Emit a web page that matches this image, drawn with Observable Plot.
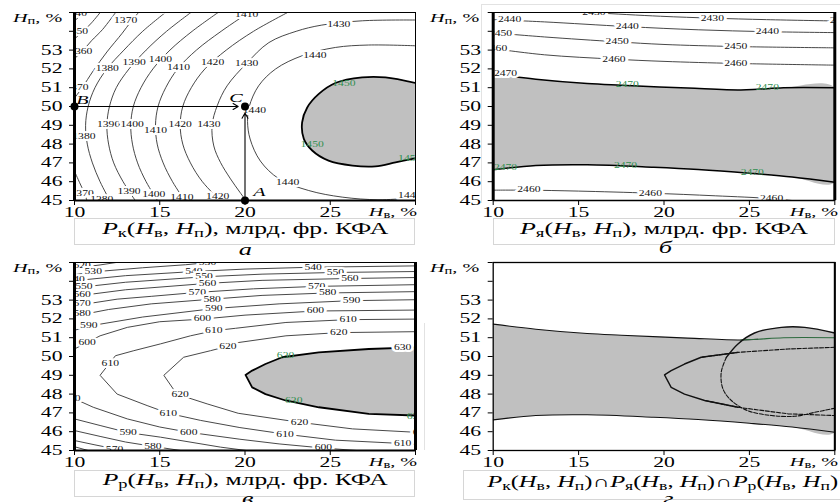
<!DOCTYPE html>
<html lang="ru"><head><meta charset="utf-8">
<script src="https://cdn.jsdelivr.net/npm/d3@7"></script>
<script src="https://cdn.jsdelivr.net/npm/@observablehq/plot@0.6"></script>
<style>
html,body{margin:0;padding:0;background:#fff;}
#fig{position:relative;width:840px;height:502px;overflow:hidden;background:#fff;font-family:"Liberation Serif","Times New Roman",serif;color:#000;}
.panel{position:absolute;width:420px;height:250px;}
.panel svg{position:absolute;left:0;top:0;overflow:visible;}
.ov{position:absolute;white-space:nowrap;line-height:1;}
.ov sub{font-size:72%;vertical-align:-0.25em;line-height:0;}
.box{position:absolute;border:1px solid #d6d6d6;box-sizing:border-box;}
.faint{position:absolute;background:#e2e2e2;}
</style></head><body><div id="fig"></div><script>
// ---------------- data ----------------
const xTicks = [10, 15, 20, 25, 30];
const yTicks = [45, 46, 47, 48, 49, 50, 51, 52, 53, 54, 55];

// panel а: Pк contour lines [level, points]
const pkLines = [
  [1340, [[10,54.55],[10.3,54.8],[10.6,55.05]]],
  [1350, [[10,53.6],[10.45,53.95],[11.0,54.45],[11.55,55.05]]],
  [1360, [[10,52.55],[10.45,52.93],[11.0,53.5],[11.65,54.1],[12.45,55.05]]],
  [1370, [[10,50.45],[10.45,51.0],[11.1,51.9],[11.9,52.9],[12.8,53.9],[13.3,54.5],[13.8,55.05]]],
  [1370, [[10,46.55],[10.3,45.95],[10.55,45.45],[10.75,44.95]]],
  [1380, [[15.4,55.05],[14.0,54],[12.9,53],[11.9,52],[11.2,51],[10.8,50],[10.65,49],[10.75,48],[11.05,47],[11.5,46],[12.1,44.95]]],
  [1390, [[16.9,55.05],[15.4,54],[14.2,53],[13.2,52],[12.45,51],[12.05,50],[11.9,49],[12.0,48],[12.3,47],[12.85,46],[13.6,44.95]]],
  [1400, [[18.5,55.05],[16.9,54],[15.6,53],[14.6,52],[13.9,51],[13.45,50],[13.3,49],[13.4,48],[13.7,47],[14.2,46],[14.9,44.95]]],
  [1410, [[20.3,55.05],[18.6,54],[17.15,53],[16.05,52],[15.35,51],[14.9,50],[14.75,49],[14.85,48],[15.2,47],[15.75,46],[16.5,44.95]]],
  [1420, [[22.6,55.05],[20.5,54],[18.9,53],[17.65,52],[16.85,51],[16.35,50],[16.2,49],[16.35,48],[16.8,47],[17.5,46],[18.6,44.95]]],
  [1430, [[30,54.6],[26.9,54.56],[24.5,54.33],[23.0,54.0],[21.4,53.4],[20.1,52.3],[18.95,51.1],[18.37,50.04],[18.07,49],[18.17,47.9],[18.56,47.03],[19.15,46.15],[19.7,45.44],[20.1,44.95]]],
  [1440, [[30,53.23],[27.25,53.27],[25.3,53.14],[23.35,52.7],[21.8,52.0],[20.8,51.1],[20.25,50.0],[20.15,49.2],[20.3,48.27],[20.9,47.1],[22.0,46.15],[23.74,45.53],[25.7,45.18],[27.8,45.04],[29.6,45.12],[30,45.15]]]
];
// region Pк >= 1450
const pkRegion = [[30,51.25],[28.24,51.55],[26.87,51.55],[25.3,51.25],[24.33,50.67],[23.65,49.95],[23.35,49.16],[23.45,48.28],[23.94,47.66],[24.9,47.12],[26.3,46.86],[27.65,46.82],[28.83,47.03],[30,47.25]];
const pkLabels = [
  [10.05,54.96,"1340"],[10.12,53.97,"1350"],[10.37,52.93,"1360"],[10.14,50.98,"1370"],[13.0,54.56,"1370"],
  [15.3,55.15,"1380"],[23.2,55.2,"1420"],
  [11.92,52.0,"1380"],[13.5,52.35,"1390"],[15.04,52.5,"1400"],[16.1,52.08,"1410"],[18.1,52.35,"1420"],
  [20.1,52.3,"1430"],[20.1,54.9,"1410"],[25.5,54.38,"1430"],[24.1,52.7,"1440"],
  [10.55,48.4,"1380"],[12.0,49.04,"1390"],[13.38,49.04,"1400"],[14.75,48.72,"1410"],[16.2,49.02,"1420"],
  [17.88,49.02,"1430"],[20.55,49.78,"1440"],[22.5,45.97,"1440"],[29.66,45.27,"1440"],
  [10.45,45.35,"1370"],[11.6,45.05,"1380"],[13.2,45.48,"1390"],[14.65,45.3,"1400"],[16.3,45.18,"1410"],[18.4,45.2,"1420"]
];
const pkLabelsGreen = [[25.8,51.2,"1450"],[23.94,48.0,"1450"],[29.66,47.25,"1450"]];
const pkPoints = [["A",20,45],["B",10,50],["C",20,50]];
const pkPointLabels = [["A",20.85,45.45],["B",10.47,50.38],["C",19.47,50.47]];
const pkArrows = [[10,50,19.6,50],[20,45,20,49.65]];

// panel б: Pя contour lines
const pyaLines = [
  [2430, [[14.5,55.05],[16,54.98],[19.8,54.8],[22.8,54.7],[26,54.62],[30,54.55]]],
  [2440, [[10,54.62],[13,54.5],[17.85,54.25],[22,54.08],[26,53.98],[30,53.93]]],
  [2450, [[10,53.92],[13,53.7],[17.26,53.44],[20,53.3],[24.2,53.19],[30,53.12]]],
  [2460, [[10,53.08],[13,52.75],[17.07,52.52],[20,52.4],[24.2,52.29],[30,52.2]]],
  [2460, [[10,45.55],[12,45.55],[15,45.5],[19.2,45.39],[23,45.25],[26.3,45.1],[28,44.95]]]
];
// region Pя >= 2470 (upper and lower edges)
const pyaTop = [[10,51.72],[12.5,51.45],[15.5,51.22],[17.5,51.13],[21.4,50.98],[24.5,50.88],[25.5,50.92],[27,51.0],[30,51.0]];
const pyaBottom = [[10,46.63],[12.5,46.86],[15.5,46.9],[19.4,46.77],[22,46.65],[25,46.45],[27.5,46.25],[30,45.97]];
const pyaLabels = [
  [15.9,55.0,"2430"],[22.83,54.7,"2430"],[30.38,54.56,"2430"],
  [10.96,54.6,"2440"],[17.85,54.24,"2440"],[26.05,53.98,"2440"],
  [10.43,53.9,"2450"],[17.26,53.44,"2450"],[24.2,53.19,"2450"],
  [10.14,53.07,"2460"],[17.07,52.52,"2460"],[24.2,52.29,"2460"],
  [12.09,45.57,"2460"],[19.2,45.39,"2460"],[26.3,45.1,"2460"],
  [10.72,51.73,"2470"]
];
const pyaLabelsGreen = [[17.85,51.14,"2470"],[26.05,50.98,"2470"],[10.72,46.77,"2470"],[17.75,46.86,"2470"],[25.17,46.5,"2470"]];

// panel в: Pр contour lines
const prLines = [
  [520, [[10,54.7],[11.5,54.87],[12.8,55.05]]],
  [530, [[10,54.35],[11.1,54.5],[14,54.72],[16.5,54.88],[18.5,55.05]]],
  [540, [[10,54.03],[13,54.3],[17,54.52],[20,54.65],[24,54.75],[30,54.82]]],
  [550, [[10,53.65],[13,53.95],[17.6,54.24],[21,54.38],[25.3,54.47],[30,54.52]]],
  [560, [[10,53.2],[13,53.55],[17.8,53.89],[21,54.05],[26.15,54.15],[30,54.2]]],
  [570, [[10,52.7],[12.5,53.05],[14.5,53.2],[17.2,53.41],[20.5,53.6],[24.2,53.73],[30,53.82]]],
  [580, [[10,52.15],[12,52.5],[14.5,52.8],[18.07,53.05],[21,53.25],[24.85,53.38],[30,53.45]]],
  [590, [[10,51.4],[11.5,51.72],[14,52.1],[18.17,52.55],[22,52.8],[26.25,52.97],[30,53.02]]],
  [600, [[10,50.4],[11.5,51.1],[13.1,51.55],[15,51.85],[17.5,51.99],[20,52.2],[24.13,52.42],[30,52.47]]],
  [610, [[30,51.99],[26.05,51.96],[22.4,51.81],[19.44,51.5],[18.17,51.37],[16.8,51.1],[15.04,50.67],[13.48,50.31],[12.4,50.04],[11.5,49.0],[12.5,48.0],[14.26,47.39],[15.5,46.98],[17.4,46.6],[19.7,46.22],[22.35,45.87],[25.3,45.55],[29.25,45.37],[30,45.33]]],
  [620, [[30,51.32],[25.5,51.27],[22.4,51.1],[19.44,50.72],[18.96,50.54],[17.98,50.31],[16.4,49.96],[15.24,49.0],[16.0,48.0],[17.78,47.48],[19.6,46.98],[23.2,46.5],[26.3,46.15],[30,45.97]]],
  [600, [[10,47.75],[11.1,47.3],[13.1,46.68],[15,46.25],[16.7,45.97],[19.7,45.6],[22,45.35],[24.6,45.13],[27.3,44.95]]],
  [590, [[10,46.68],[11.5,46.33],[13.15,45.95],[15.04,45.71],[18.56,45.18],[20.5,44.95]]],
  [580, [[10,46.06],[11.5,45.75],[13,45.45],[14.6,45.22],[16.6,44.95]]],
  [570, [[10,45.53],[11.2,45.3],[12.35,45.09],[13.3,44.95]]],
  [560, [[10,45.2],[11,44.95]]]
];
// region Pр >= 630
const prRegion = [[30,50.49],[27.26,50.4],[24.33,50.22],[22.18,49.96],[21.2,49.6],[20.42,49.25],[20.03,49.02],[20.42,48.36],[21.2,48.0],[22.38,47.66],[24.33,47.3],[27.26,46.95],[30,46.86]];
const prLabels = [
  [10.45,54.82,"520"],[11.1,54.5,"530"],[10.1,54.07,"540"],[10.55,53.71,"550"],[10.45,53.28,"560"],
  [10.45,52.82,"570"],[10.45,52.26,"580"],[10.84,51.64,"590"],[10.74,50.72,"600"],[12.1,49.64,"610"],[9.85,47.74,"600"],
  [17.8,54.97,"530"],[17.0,54.52,"540"],[17.6,54.24,"550"],[17.8,53.89,"560"],[17.2,53.41,"570"],
  [18.07,53.05,"580"],[18.17,52.57,"590"],[17.5,51.99,"600"],[18.17,51.37,"610"],[19.0,50.55,"620"],
  [24.0,54.75,"540"],[25.3,54.47,"550"],[26.15,54.15,"560"],[24.2,53.73,"570"],[24.85,53.38,"580"],
  [26.25,52.97,"590"],[24.13,52.44,"600"],[26.05,51.96,"610"],[25.5,51.27,"620"],[29.25,50.49,"630"],
  [16.2,47.97,"620"],[15.5,46.97,"610"],[16.7,45.97,"600"],[13.15,45.95,"590"],[14.6,45.22,"580"],
  [12.35,45.07,"570"],[23.2,46.5,"620"],[22.35,45.87,"610"],[24.6,45.13,"600"],[29.25,45.37,"610"],[30.35,45.97,"620"]
];
const prLabelsGreen = [[22.38,50.04,"630"],[22.86,47.66,"630"],[30.0,46.8,"630"]];

// captions
const capA = '<i>P</i><sub>к</sub>(<i>H</i><sub>в</sub>, <i>H</i><sub>п</sub>), млрд. фр. КФА';
const capB = '<i>P</i><sub>я</sub>(<i>H</i><sub>в</sub>, <i>H</i><sub>п</sub>), млрд. фр. КФА';
const capV = '<i>P</i><sub>р</sub>(<i>H</i><sub>в</sub>, <i>H</i><sub>п</sub>), млрд. фр. КФА';
const capG = '<i>P</i><sub>к</sub>(<i>H</i><sub>в</sub>, <i>H</i><sub>п</sub>)∩<i>P</i><sub>я</sub>(<i>H</i><sub>в</sub>, <i>H</i><sub>п</sub>)∩<i>P</i><sub>р</sub>(<i>H</i><sub>в</sub>, <i>H</i><sub>п</sub>)';
const yName = '<i>H</i><sub>п</sub>, %';
const xName = '<i>H</i><sub>в</sub>, %';

// ---------------- drawing ----------------
const SX = 1.55;
const GRAY = "#c0c0c0", LINE = "#333", GREEN = "#2f8f4f";
const X = d => d[0], Y = d => d[1];

function stretch(svg) {
  svg.querySelectorAll("text").forEach(t => {
    const x = +t.getAttribute("x") || 0, y = +t.getAttribute("y") || 0;
    const tr = t.getAttribute("transform") || "";
    t.setAttribute("transform", `${tr} translate(${x},${y}) scale(${SX},1) translate(${-x},${-y})`);
  });
}
function contours(lines, curve) {
  const data = lines.flatMap(([lv, pts], i) => pts.map(p => ({x: p[0], y: p[1], z: i})));
  return Plot.line(data, {x: "x", y: "y", z: "z", stroke: LINE, strokeWidth: 0.9, curve, clip: true});
}
function labels(black, green) {
  return [
    Plot.text(black, {x: X, y: Y, text: d => d[2], fontSize: 7.5, fill: "#111", stroke: "white", strokeWidth: 4, strokeLinejoin: "round", paintOrder: "stroke", clip: true}),
    Plot.text(green, {x: X, y: Y, text: d => d[2], fontSize: 7.5, fill: GREEN, clip: true})
  ];
}
function makePlot(ml, mr, marks) {
  const svg = Plot.plot({
    width: 420, height: 218, marginTop: 12, marginBottom: 18, marginLeft: ml, marginRight: mr,
    x: {domain: [10, 30], ticks: xTicks, tickSize: 5, tickPadding: 2, tickFormat: d => d < 30 ? String(d) : "", label: null},
    y: {domain: [45, 55], ticks: yTicks, tickSize: 5, tickPadding: 7, tickFormat: d => d <= 53 ? String(d) : "", label: null},
    style: {fontFamily: '"Liberation Serif", serif', fontSize: "14px", background: "transparent", color: "#000", overflow: "visible"},
    marks
  });
  stretch(svg);
  return svg;
}
const fig = document.getElementById("fig");
function addPanel(left, top, svg, o) {
  const p = document.createElement("div");
  p.className = "panel"; p.style.left = left + "px"; p.style.top = top + "px";
  p.appendChild(svg);
  fig.appendChild(p);
  return p;
}
function overlay(p, o) {
  const add = (cls, html, css) => { const e = document.createElement(cls === "div" ? "div" : "span"); e.className = cls === "div" ? "box" : "ov"; if (html) e.innerHTML = html; Object.assign(e.style, css); p.appendChild(e); return e; };
  // axis names
  add("span", yName, {left: o.yn[0] + "px", top: o.yn[1] + "px", fontSize: "13px", transform: `scaleX(${SX})`, transformOrigin: "0 0"});
  add("span", xName, {right: o.xn[0] + "px", top: o.xn[1] + "px", fontSize: "13px", transform: `scaleX(${SX})`, transformOrigin: "100% 0"});
  // caption box + text
  add("div", null, {left: o.box[0] + "px", top: o.box[1] + "px", width: o.box[2] + "px", height: o.box[3] + "px"});
  const c = add("span", o.cap, {top: o.capTop + "px", fontSize: "16px", left: "0px"});
  const w = c.getBoundingClientRect().width;
  c.style.left = (o.capCx - w / 2) + "px";
  c.style.transform = `scaleX(${o.capW / w})`;
  c.style.transformOrigin = "50% 0";
  // letter
  const l = add("span", o.letter, {top: o.let[1] + "px", fontSize: "17px", fontStyle: "italic"});
  const lw = l.getBoundingClientRect().width;
  l.style.left = (o.let[0] - lw / 2) + "px";
  l.style.transform = `scaleX(${SX})`; l.style.transformOrigin = "50% 0";
}
function faint(p, l, t, w, h) { const e = document.createElement("div"); e.className = "faint"; Object.assign(e.style, {left: l + "px", top: t + "px", width: w + "px", height: h + "px"}); p.appendChild(e); }

const bandPoly = pyaTop.concat(pyaBottom.slice().reverse());

// panel а
const svgA = makePlot(74, 5, [
  Plot.line(pkRegion, {x: X, y: Y, fill: GRAY, stroke: "none", curve: "catmull-rom", clip: true}),
  contours(pkLines, "catmull-rom"),
  Plot.line(pkRegion, {x: X, y: Y, stroke: "#000", strokeWidth: 1.8, curve: "catmull-rom", clip: true}),
  ...labels(pkLabels, pkLabelsGreen),
  Plot.arrow(pkArrows, {x1: d => d[0], y1: d => d[1], x2: d => d[2], y2: d => d[3], stroke: "#000", strokeWidth: 1.1, headLength: 8}),
  Plot.dot(pkPoints, {x: d => d[1], y: d => d[2], r: 4, fill: "#000"}),
  Plot.text(pkPointLabels, {x: d => d[1], y: d => d[2], text: d => d[0], fontSize: 13, fontStyle: "italic", fill: "#000"}),
  Plot.frame({stroke: "#000"}),
  Plot.ruleX([10], {stroke: "#000", strokeWidth: 3}),
  Plot.ruleY([45], {stroke: "#000", strokeWidth: 2})
]);
const pA = addPanel(0, 0, svgA);
overlay(pA, {yn: [13, 11], xn: [3, 205], box: [74, 218, 341, 27], cap: capA, capTop: 221, capCx: 245, capW: 286, letter: "а", let: [245, 241]});

// panel б
const svgB = makePlot(72.7, 5.7, [
  Plot.line(bandPoly, {x: X, y: Y, fill: GRAY, stroke: "none", curve: "catmull-rom", clip: true}),
  contours(pyaLines, "catmull-rom"),
  Plot.line(pyaTop, {x: X, y: Y, stroke: "#000", strokeWidth: 1.5, curve: "catmull-rom", clip: true}),
  Plot.line(pyaBottom, {x: X, y: Y, stroke: "#000", strokeWidth: 1.5, curve: "catmull-rom", clip: true}),
  ...labels(pyaLabels, pyaLabelsGreen),
  Plot.frame({stroke: "#000"}),
  Plot.ruleX([10, 30], {stroke: "#000", strokeWidth: 3}),
  Plot.ruleY([45], {stroke: "#000", strokeWidth: 1.5})
]);
const pB = addPanel(420, 0, svgB);
faint(pB, 61, 4, 1, 199); faint(pB, 61, 4, 359, 1);
overlay(pB, {yn: [10, 11], xn: [2, 205], box: [73, 218, 342, 27], cap: capB, capTop: 221, capCx: 244, capW: 288, letter: "б", let: [245, 239]});

// panel в
const svgV = makePlot(74, 5, [
  Plot.line(prRegion, {x: X, y: Y, fill: GRAY, stroke: "none", clip: true}),
  contours(prLines, "linear"),
  Plot.line(prRegion, {x: X, y: Y, stroke: "#000", strokeWidth: 1.8, clip: true}),
  ...labels(prLabels, prLabelsGreen),
  Plot.frame({stroke: "#000"}),
  Plot.ruleX([10, 30], {stroke: "#000", strokeWidth: 3}),
  Plot.ruleY([45], {stroke: "#000", strokeWidth: 2})
]);
const pV = addPanel(0, 250, svgV);
overlay(pV, {yn: [13, 11], xn: [3, 205], box: [74, 220, 341, 27], cap: capV, capTop: 222, capCx: 245.5, capW: 285, letter: "в", let: [248, 240]});

// panel г
const dash = "4,1.6";
const svgG = makePlot(72.7, 5.7, [
  Plot.line(bandPoly, {x: X, y: Y, fill: GRAY, stroke: "none", curve: "catmull-rom", clip: true}),
  Plot.line(pkRegion, {x: X, y: Y, fill: GRAY, stroke: "none", curve: "catmull-rom", clip: true}),
  Plot.line(prRegion, {x: X, y: Y, fill: GRAY, stroke: "none", clip: true}),
  Plot.line(pyaTop.filter(p => p[0] <= 25.5), {x: X, y: Y, stroke: "#111", strokeWidth: 1.1, curve: "catmull-rom", clip: true}),
  Plot.line(pyaTop.filter(p => p[0] >= 24.5), {x: X, y: Y, stroke: "#2d6a3e", strokeWidth: 1.1, curve: "catmull-rom", clip: true}),
  Plot.line(pyaBottom, {x: X, y: Y, stroke: "#111", strokeWidth: 1.1, curve: "catmull-rom", clip: true}),
  Plot.line(prRegion.slice(2, 11), {x: X, y: Y, stroke: "#111", strokeWidth: 1.4, clip: true}),
  Plot.line(prRegion.slice(0, 4), {x: X, y: Y, stroke: "#111", strokeWidth: 1.1, strokeDasharray: dash, clip: true}),
  Plot.line(prRegion.slice(9), {x: X, y: Y, stroke: "#111", strokeWidth: 1.1, strokeDasharray: dash, clip: true}),
  Plot.line(pkRegion.slice(0, 6), {x: X, y: Y, stroke: "#111", strokeWidth: 1.4, curve: "catmull-rom", clip: true}),
  Plot.line(pkRegion.slice(5), {x: X, y: Y, stroke: "#111", strokeWidth: 1.1, strokeDasharray: dash, curve: "catmull-rom", clip: true}),
  Plot.frame({stroke: "#000", strokeWidth: 1.3}),
  Plot.ruleX([30], {stroke: "#000", strokeWidth: 2})
]);
const pG = addPanel(420, 250, svgG);
faint(pG, 4, 73, 1, 127);
overlay(pG, {yn: [10, 11], xn: [2, 205], box: [43, 220, 380, 30], cap: capG, capTop: 224, capCx: 242.5, capW: 351, letter: "г", let: [248, 240]});
</script></body></html>
